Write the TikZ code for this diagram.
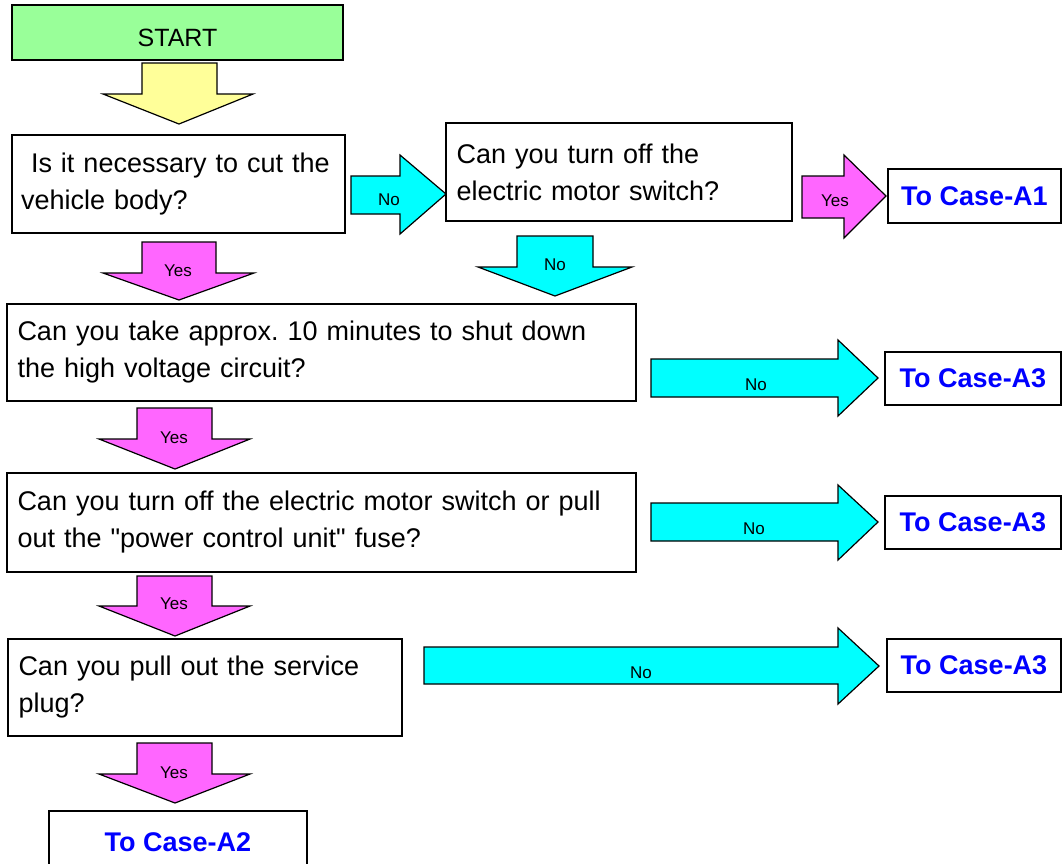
\documentclass[tikz,border=0pt]{standalone}
\usepackage{fontspec}
\setmainfont{Liberation Sans}[Ligatures=TeXOff]
\frenchspacing
\definecolor{startgreen}{HTML}{99FF99}
\definecolor{arrowyellow}{HTML}{FFFF99}
\definecolor{yesmagenta}{HTML}{FF66FF}
\definecolor{nocyan}{HTML}{00FFFF}
\definecolor{caseblue}{HTML}{0000FF}
\begin{document}
\begin{tikzpicture}[x=1pt,y=-1pt,
  qbox/.style={draw=black,line width=1.3pt,fill=white,anchor=north west,inner xsep=10.5pt,inner ysep=0pt,outer sep=0pt,align=left,font=\fontsize{27}{37}\selectfont\frenchspacing},
  casebox/.style={draw=black,line width=1.3pt,fill=white,anchor=north west,inner sep=0pt,outer sep=0pt,font=\fontsize{27}{30}\selectfont\bfseries,text=caseblue},
  blk/.style={draw=black,line width=1.2pt,line join=miter},
  lbl/.style={inner sep=0pt,font=\fontsize{17}{20}\selectfont}]
\useasboundingbox (0,0) rectangle (1062,863);
\begin{scope}
\clip (0,0) rectangle (1062,863);
% start
\node[draw=black,line width=1.3pt,fill=startgreen,anchor=north west,minimum width=331pt,minimum height=55pt,inner sep=0pt,outer sep=0pt] (start) at (12,5) {};
\node[inner sep=0pt,font=\fontsize{25}{28}\selectfont] (starttext) at ([yshift=-5pt]start.center) {START};
% yellow arrow
\draw[blk,fill=arrowyellow] (142,63)--(217,63)--(217,94)--(253,94)--(179,124)--(103,94)--(142,94)--cycle;
% question boxes
\node[qbox,inner xsep=9pt,text width=315pt,minimum height=98pt] (q1) at (12,135) {\hspace*{10pt}Is it necessary to cut the\\vehicle body?};
\node[qbox,text width=325pt,minimum height=98pt] (q2) at (446,123) {Can you turn off the\\electric motor switch?};
\node[qbox,text width=608pt,minimum height=97pt] (q3) at (7,304) {Can you take approx. 10 minutes to shut down\\the high voltage circuit?};
\node[qbox,text width=608pt,minimum height=99pt] (q4) at (7,473) {Can you turn off the electric motor switch or pull\\out the "power control unit" fuse?};
\node[qbox,text width=373pt,minimum height=97pt] (q5) at (8,639) {Can you pull out the service\\plug?};
% case boxes
\node[casebox,minimum width=173pt,minimum height=54pt] (a1) at (888,169) {To Case-A1};
\node[casebox,minimum width=176pt,minimum height=53pt] (a3a) at (885,352) {To Case-A3};
\node[casebox,minimum width=176pt,minimum height=53pt] (a3b) at (885,496) {To Case-A3};
\node[casebox,minimum width=174pt,minimum height=53pt] (a3c) at (887,639) {To Case-A3};
\node[casebox,minimum width=258pt,minimum height=62pt] (a2) at (49,811) {To Case-A2};
% block arrows
\draw[blk,fill=nocyan] (351,176)--(400,176)--(400,155)--(446,194)--(400,234)--(400,214)--(351,214)--cycle;
\node[lbl] (n1) at (389,200) {No};
\draw[blk,fill=yesmagenta] (802,176)--(844,176)--(844,155)--(886,196)--(844,238)--(844,218)--(802,218)--cycle;
\node[lbl] (y1) at (835,201) {Yes};
\draw[blk,fill=yesmagenta] (142,242)--(216,242)--(216,273)--(254,273)--(179,300)--(103,273)--(142,273)--cycle;
\node[lbl] (y2) at (178,271) {Yes};
\draw[blk,fill=nocyan] (517,236)--(593,236)--(593,267)--(632,267)--(555,296)--(478,267)--(517,267)--cycle;
\node[lbl] (n2) at (555,265) {No};
\draw[blk,fill=yesmagenta] (137,408)--(212,408)--(212,439)--(250,439)--(175,469)--(99,439)--(137,439)--cycle;
\node[lbl] (y3) at (174,438) {Yes};
\draw[blk,fill=nocyan] (651,359)--(838,359)--(838,340)--(878,378)--(838,416)--(838,397)--(651,397)--cycle;
\node[lbl] (n3) at (756,385) {No};
\draw[blk,fill=yesmagenta] (137,576)--(212,576)--(212,606)--(250,606)--(175,636)--(99,606)--(137,606)--cycle;
\node[lbl] (y4) at (174,604) {Yes};
\draw[blk,fill=nocyan] (651,503)--(838,503)--(838,485)--(878,522)--(838,560)--(838,541)--(651,541)--cycle;
\node[lbl] (n4) at (754,529) {No};
\draw[blk,fill=nocyan] (424,647)--(838,647)--(838,628)--(879,666)--(838,704)--(838,684)--(424,684)--cycle;
\node[lbl] (n5) at (641,673) {No};
\draw[blk,fill=yesmagenta] (137,743)--(212,743)--(212,774)--(250,774)--(175,803)--(99,774)--(137,774)--cycle;
\node[lbl] (y5) at (174,773) {Yes};
\end{scope}
\end{tikzpicture}
\end{document}
